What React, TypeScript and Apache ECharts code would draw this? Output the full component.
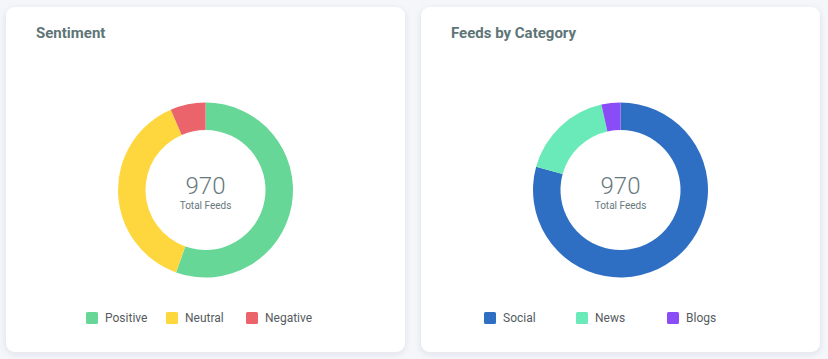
import React, { useEffect, useRef } from "react";
import * as echarts from "echarts";

const sentimentNames = ["Positive", "Neutral", "Negative"];
const sentimentValues = [538, 369, 63];
const sentimentColors = ["#66d796", "#fed73f", "#eb646b"];

const categoryNames = ["Social", "News", "Blogs"];
const categoryValues = [769, 167, 34];
const categoryColors = ["#2f6fc3", "#6beab9", "#8a4cf6"];

const totalLabel = "970";
const totalSub = "Total Feeds";

const FONT = "Roboto, 'Noto Sans', sans-serif";
const ICON =
  "path://M1.5,0h9a1.5,1.5 0 0 1 1.5,1.5v9a1.5,1.5 0 0 1 -1.5,1.5h-9a1.5,1.5 0 0 1 -1.5,-1.5v-9a1.5,1.5 0 0 1 1.5,-1.5z";

export default function App() {
  const ref = useRef<HTMLDivElement>(null);
  useEffect(() => {
    if (!ref.current) return;
    const chart = echarts.init(ref.current, undefined, { renderer: "svg" });

    const mkLegends = (names: string[], colors: string[], xs: number[]) =>
      names.map((n, i) => ({
        data: [n],
        left: xs[i],
        top: 312,
        padding: 0,
        itemWidth: 12,
        itemHeight: 12,
        icon: ICON,
        itemStyle: { color: colors[i] },
        textStyle: { fontSize: 12, color: "#555b5e", fontFamily: FONT, padding: [0, 0, 0, 2] },
      }));

    const mkPie = (names: string[], values: number[], colors: string[], cx: number) => ({
      type: "pie",
      center: [cx, 190],
      radius: [60, 87.5],
      startAngle: 90,
      clockwise: true,
      label: { show: false },
      labelLine: { show: false },
      emphasis: { disabled: true },
      itemStyle: { borderWidth: 0 },
      data: names.map((n, i) => ({ name: n, value: values[i], itemStyle: { color: colors[i] } })),
    });

    const centerTexts = (cx: number) => [
      {
        type: "text",
        x: cx,
        y: 186,
        style: {
          text: totalLabel,
          fontSize: 24,
          fontWeight: 300,
          fontFamily: FONT,
          fill: "#67787d",
          align: "center",
          verticalAlign: "middle",
        },
      },
      {
        type: "text",
        x: cx,
        y: 205.5,
        style: {
          text: totalSub,
          fontSize: 10,
          fontFamily: FONT,
          fill: "#67787d",
          align: "center",
          verticalAlign: "middle",
        },
      },
    ];

    const card = (x: number) => ({
      type: "rect",
      z: -10,
      shape: { x, y: 7, width: 399, height: 345, r: 9 },
      style: {
        fill: "#ffffff",
        shadowBlur: 6,
        shadowOffsetY: 2,
        shadowColor: "rgba(40,60,90,0.10)",
      },
    });

    chart.setOption({
      animation: false,
      backgroundColor: "#f4f6fa",
      title: [
        {
          text: "Sentiment",
          left: 36,
          top: 25,
          padding: 0,
          textStyle: { fontSize: 15, fontWeight: "bold", color: "#5e7577", fontFamily: FONT },
        },
        {
          text: "Feeds by Category",
          left: 451,
          top: 25,
          padding: 0,
          textStyle: { fontSize: 15, fontWeight: "bold", color: "#5e7577", fontFamily: FONT },
        },
      ],
      legend: [
        ...mkLegends(sentimentNames, sentimentColors, [86, 166, 246]),
        ...mkLegends(categoryNames, categoryColors, [484, 576, 667]),
      ],
      graphic: [card(6), card(421), ...centerTexts(205.5), ...centerTexts(620.5)],
      series: [
        mkPie(sentimentNames, sentimentValues, sentimentColors, 205.5),
        mkPie(categoryNames, categoryValues, categoryColors, 620.5),
      ],
    });
    return () => chart.dispose();
  }, []);
  return (
    <div
      ref={ref}
      style={{ position: "fixed", left: 0, top: 0, width: 828, height: 359 }}
    />
  );
}
